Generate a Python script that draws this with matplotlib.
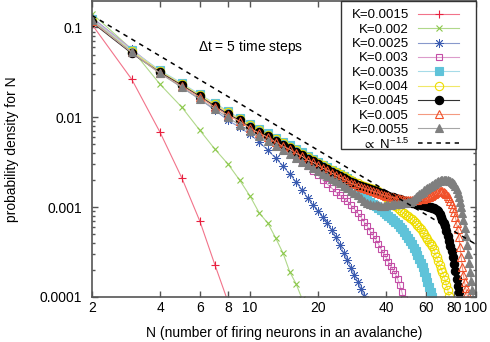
import matplotlib
matplotlib.use("Agg")
from matplotlib import pyplot as plt
from matplotlib.patches import Rectangle
from matplotlib.ticker import FixedLocator, FixedFormatter, NullLocator, LogLocator
import numpy as np

plt.rcParams['font.family'] = ['Liberation Sans', 'DejaVu Sans']
plt.rcParams['mathtext.fontset'] = 'custom'
plt.rcParams['mathtext.rm'] = 'Liberation Sans'
plt.rcParams['mathtext.default'] = 'regular'

# probability density for N, one list per coupling K, starting at N = 2
p_k0015 = [0.108, 0.0264, 0.00681, 0.00210, 0.000699, 0.000227, 8.8e-5]
p_k0020 = [0.143, 0.0570, 0.0233, 0.0129, 0.00717, 0.00441, 0.00301, 0.00200,
           0.00133, 0.000858, 0.000664, 0.000452, 0.000308, 0.000190, 0.000140, 9.5e-5]
p_k0025 = [0.129, 0.0570, 0.0316, 0.0215, 0.0159, 0.0120, 0.00926, 0.00774,
           0.00647, 0.00528, 0.00430, 0.00350, 0.00286, 0.00233, 0.00190, 0.00155,
           0.00126, 0.00105, 0.000903, 0.000774, 0.000664, 0.000555, 0.000464,
           0.000378, 0.000308, 0.000258, 0.000210, 0.000176, 0.000147, 0.000123,
           0.000103, 8.4e-5]
p_k0030 = [0.126, 0.0570, 0.0325, 0.0227, 0.0171, 0.0136, 0.0111, 0.00926,
           0.00794, 0.00699, 0.00615, 0.00541, 0.00476, 0.00419, 0.00369, 0.00325,
           0.00286, 0.00251, 0.00227, 0.00200, 0.00180, 0.00163, 0.00147, 0.00136,
           0.00126, 0.00117, 0.00105, 0.000950, 0.000858, 0.000774, 0.000681,
           0.000615, 0.000541, 0.000489, 0.000441, 0.000388, 0.000342, 0.000308,
           0.000278, 0.000245, 0.000221, 0.000200, 0.000180, 0.000159, 0.000136,
           0.000114, 9.5e-5]
p_k0035 = [0.123, 0.0555, 0.0333, 0.0239, 0.0180, 0.0143, 0.0117, 0.00975,
           0.00836, 0.00736, 0.00664, 0.00584, 0.00528, 0.00489, 0.00441, 0.00408,
           0.00369, 0.00342, 0.00316, 0.00293, 0.00278, 0.00258, 0.00245, 0.00233,
           0.00221, 0.00210, 0.00195, 0.00180, 0.00163, 0.00147, 0.00133, 0.00123,
           0.00114, 0.00108, 0.00103, 0.000975, 0.000926, 0.000880, 0.000836,
           0.000794, 0.000755, 0.000717, 0.000681, 0.000647, 0.000600, 0.000570,
           0.000528, 0.000489, 0.000452, 0.000419, 0.000388, 0.000350, 0.000325,
           0.000293, 0.000264, 0.000239, 0.000215, 0.000190, 0.000167, 0.000147,
           0.000129, 0.000114, 0.000100, 8.6e-5]
p_k0040 = [0.120, 0.0541, 0.0325, 0.0233, 0.0176, 0.0140, 0.0114, 0.00950,
           0.00815, 0.00717, 0.00631, 0.00570, 0.00514, 0.00464, 0.00430, 0.00388,
           0.00359, 0.00333, 0.00308, 0.00293, 0.00271, 0.00258, 0.00245, 0.00233,
           0.00221, 0.00210, 0.00200, 0.00190, 0.00185, 0.00176, 0.00171, 0.00167,
           0.00163, 0.00159, 0.00155, 0.00151, 0.00143, 0.00136, 0.00129, 0.00123,
           0.00117, 0.00111, 0.00103, 0.000975, 0.000926, 0.000880, 0.000858,
           0.000815, 0.000794, 0.000755, 0.000736, 0.000699, 0.000664, 0.000631,
           0.000600, 0.000570, 0.000528, 0.000501, 0.000464, 0.000441, 0.000408,
           0.000388, 0.000369, 0.000342, 0.000308, 0.000278, 0.000251, 0.000227,
           0.000205, 0.000190, 0.000171, 0.000155, 0.000136, 0.000120, 0.000103, 8.8e-5]
p_k0045 = [0.114, 0.0514, 0.0316, 0.0227, 0.0171, 0.0133, 0.0108, 0.00926,
           0.00774, 0.00681, 0.00615, 0.00541, 0.00489, 0.00452, 0.00408, 0.00378,
           0.00342, 0.00325, 0.00301, 0.00278, 0.00264, 0.00245, 0.00233, 0.00221,
           0.00210, 0.00200, 0.00190, 0.00185, 0.00176, 0.00171, 0.00167, 0.00163,
           0.00159, 0.00155, 0.00151, 0.00147, 0.00143, 0.00140, 0.00136, 0.00133,
           0.00129, 0.00129, 0.00126, 0.00123, 0.00123, 0.00120, 0.00117, 0.00117,
           0.00114, 0.00114, 0.00111, 0.00111, 0.00108, 0.00108, 0.00108, 0.00105,
           0.00105, 0.00105, 0.00103, 0.00103, 0.00100, 0.00100, 0.000975, 0.000975,
           0.000950, 0.000926, 0.000903, 0.000836, 0.000774, 0.000717, 0.000664,
           0.000615, 0.000541, 0.000476, 0.000419, 0.000369, 0.000325, 0.000278,
           0.000233, 0.000195, 0.000159, 0.000133, 0.000114, 9.5e-5]
p_k0050 = [0.117, 0.0528, 0.0308, 0.0221, 0.0167, 0.0129, 0.0105, 0.00903,
           0.00755, 0.00664, 0.00600, 0.00528, 0.00476, 0.00441, 0.00398, 0.00369,
           0.00333, 0.00316, 0.00293, 0.00271, 0.00258, 0.00239, 0.00227, 0.00215,
           0.00205, 0.00195, 0.00185, 0.00180, 0.00171, 0.00167, 0.00163, 0.00159,
           0.00155, 0.00151, 0.00147, 0.00143, 0.00140, 0.00136, 0.00133, 0.00133,
           0.00129, 0.00129, 0.00126, 0.00126, 0.00123, 0.00123, 0.00120, 0.00120,
           0.00120, 0.00120, 0.00120, 0.00120, 0.00120, 0.00120, 0.00123, 0.00123,
           0.00123, 0.00126, 0.00126, 0.00129, 0.00129, 0.00133, 0.00136, 0.00140,
           0.00143, 0.00147, 0.00151, 0.00151, 0.00151, 0.00151, 0.00147, 0.00143,
           0.00140, 0.00133, 0.00126, 0.00117, 0.00108, 0.000975, 0.000880, 0.000774,
           0.000664, 0.000570, 0.000464, 0.000359, 0.000278, 0.000215, 0.000176,
           0.000147, 0.000126, 0.000111, 9.5e-5]
p_k0055 = [0.120, 0.0528, 0.0308, 0.0215, 0.0159, 0.0123, 0.0100, 0.00815,
           0.00699, 0.00615, 0.00541, 0.00476, 0.00430, 0.00388, 0.00350, 0.00316,
           0.00293, 0.00271, 0.00251, 0.00233, 0.00221, 0.00205, 0.00195, 0.00185,
           0.00171, 0.00163, 0.00151, 0.00143, 0.00136, 0.00126, 0.00117, 0.00111,
           0.00108, 0.00105, 0.00105, 0.00105, 0.00103, 0.00103, 0.00105, 0.00105,
           0.00105, 0.00108, 0.00108, 0.00108, 0.00108, 0.00111, 0.00111, 0.00111,
           0.00114, 0.00114, 0.00117, 0.00123, 0.00129, 0.00133, 0.00140, 0.00143,
           0.00147, 0.00155, 0.00159, 0.00163, 0.00167, 0.00171, 0.00176, 0.00180,
           0.00185, 0.00190, 0.00195, 0.00195, 0.00200, 0.00200, 0.00200, 0.00200,
           0.00200, 0.00200, 0.00195, 0.00195, 0.00190, 0.00185, 0.00180, 0.00171,
           0.00159, 0.00143, 0.00129, 0.00114, 0.00100, 0.000858, 0.000717, 0.000584,
           0.000476, 0.000378, 0.000301, 0.000239, 0.000190, 0.000151, 0.000120, 9.5e-5]

labels = ['K=0.0015', 'K=0.002', 'K=0.0025', 'K=0.003', 'K=0.0035',
          'K=0.004', 'K=0.0045', 'K=0.005', 'K=0.0055']
series = [p_k0015, p_k0020, p_k0025, p_k0030, p_k0035,
          p_k0040, p_k0045, p_k0050, p_k0055]

# reference power law N^-1.5, end points
ref_n = [2, 100]
ref_p = [0.136, 0.000385]
ref_label = r'$\propto$ N$^{-1.5}$'

xticks = [2, 4, 6, 8, 10, 20, 40, 60, 80, 100]
yticks = [0.0001, 0.001, 0.01, 0.1]
ytick_labels = ['0.0001', '0.001', '0.01', '0.1']

# (marker, marker colour, line colour, filled, size, edge width)
styles = [
    ('+', '#e8213f', '#f2738a', True, 6, 0.8),
    ('x', '#8cc84b', '#b0d88a', True, 5, 0.8),
    ((8, 2, 0), '#3a5bb0', '#8899cc', True, 6.5, 0.6),
    ('s', '#c44ea6', '#dc9ccb', False, 5, 0.8),
    ('s', '#5fc3d9', '#a6dbe8', True, 5.5, 0.8),
    ('o', '#eedd00', '#f0e868', False, 6, 0.8),
    ('o', '#000000', '#333333', True, 6, 0.8),
    ('^', '#f0502a', '#f49a80', False, 6, 0.8),
    ('^', '#7f7f7f', '#a6a6a6', True, 6, 0.8),
]

fig = plt.figure(figsize=(4.9, 3.42), dpi=100)
ax = fig.add_axes([92 / 490, 45 / 342, 384 / 490, 296 / 342])

for p, (m, mc, lc, filled, ms, mw) in zip(series, styles):
    n = np.arange(2, 2 + len(p))
    ax.plot(n, p, color=lc, lw=0.8, marker=m, ms=ms, mec=mc,
            mfc=mc if filled else 'none', mew=mw)

ax.plot(ref_n, ref_p, color='black', lw=1.1, ls=(0, (3, 3)))

ax.set_xscale('log')
ax.set_yscale('log')
ax.set_xlim(2, 100)
ax.set_ylim(1e-4, 0.197)

ax.xaxis.set_major_locator(FixedLocator(xticks))
ax.xaxis.set_major_formatter(FixedFormatter([str(t) for t in xticks]))
ax.xaxis.set_minor_locator(NullLocator())
ax.yaxis.set_major_locator(FixedLocator(yticks))
ax.yaxis.set_major_formatter(FixedFormatter(ytick_labels))
ax.yaxis.set_minor_locator(LogLocator(base=10, subs=np.arange(2, 10)))

for s in ax.spines.values():
    s.set_color('#555555')
    s.set_linewidth(1.2)
ax.tick_params(which='both', direction='in', top=True, right=True,
               color='#555555', width=1.0, labelsize=10)
ax.tick_params(which='major', length=4.5)
ax.tick_params(which='minor', length=2.2)
ax.tick_params(axis='x', pad=3)
ax.tick_params(axis='y', pad=7)

ax.set_xlabel('N (number of firing neurons in an avalanche)', fontsize=10, labelpad=8)
ax.set_ylabel('probability density for N', fontsize=10, labelpad=15)

ax.text(0.414, 0.845, r'$\Delta$t = 5 time steps', transform=ax.transAxes,
        ha='center', va='center', fontsize=10)

# gnuplot style key: right-aligned text, sample on the right
def px(x):
    return (x - 92) / 384

def py(y):
    return (297 - y) / 296

ax.add_patch(Rectangle((px(341), py(149)), px(476) - px(341), py(1) - py(149),
                       transform=ax.transAxes, facecolor='white',
                       edgecolor='#333333', lw=1.0, zorder=4, clip_on=False))
for i, (lab, (m, mc, lc, filled, ms, mw)) in enumerate(zip(labels, styles)):
    yy = py(14 + 14.3 * i)
    ax.text(px(409), yy, lab, transform=ax.transAxes, ha='right',
            va='center_baseline', fontsize=9.5, zorder=6)
    ax.plot([px(418), px(459)], [yy, yy], transform=ax.transAxes, color=lc,
            lw=0.8, zorder=5, clip_on=False)
    ax.plot([px(438.5)], [yy], transform=ax.transAxes, ls='none', marker=m,
            ms=ms, mec=mc, mfc=mc if filled else 'none', mew=mw, zorder=5,
            clip_on=False)
yy = py(14 + 14.3 * 9)
ax.text(px(409), yy, ref_label, transform=ax.transAxes, ha='right',
        va='center_baseline', fontsize=9.5, zorder=6)
ax.plot([px(418), px(459)], [yy, yy], transform=ax.transAxes, color='black',
        lw=1.1, ls=(0, (3, 3)), zorder=5, clip_on=False)

fig.savefig('out.png', dpi=100)
